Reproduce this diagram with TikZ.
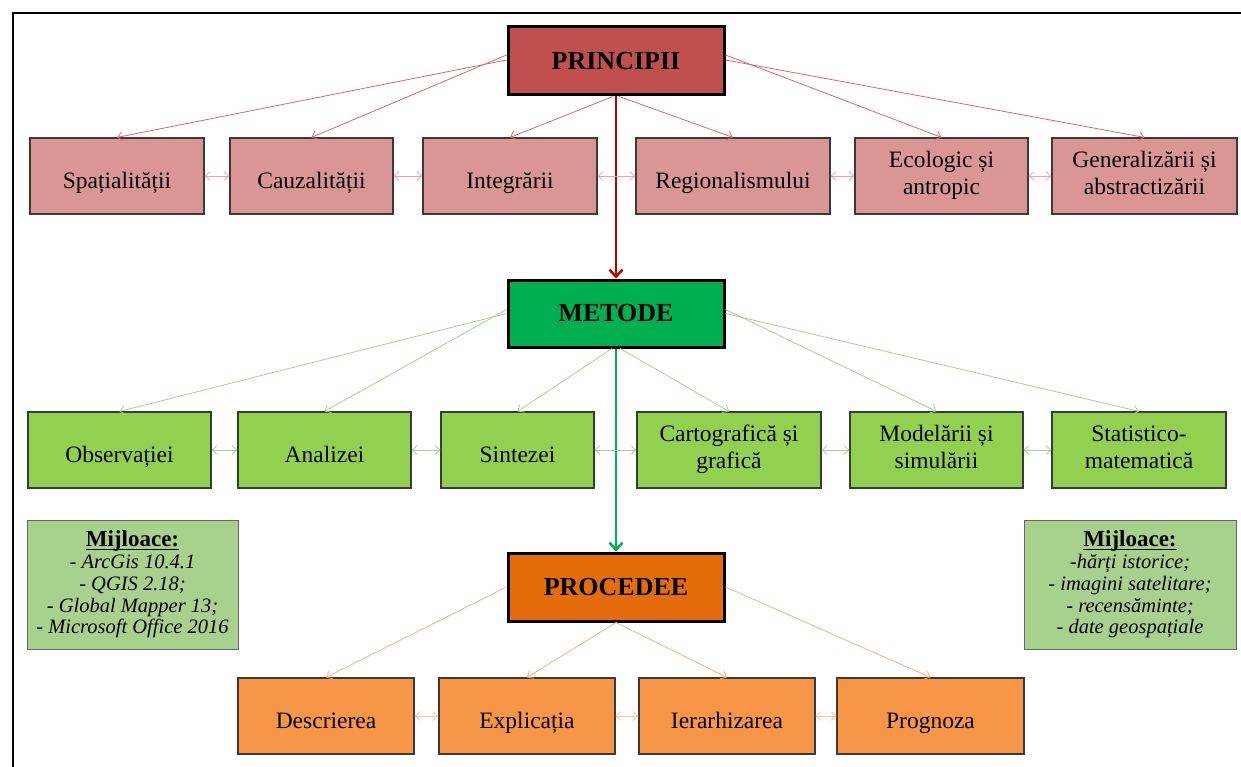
\documentclass[tikz,border=0pt]{standalone}
\usepackage{fontspec}
\setmainfont{Liberation Serif}
\usetikzlibrary{arrows.meta}
\definecolor{pfill}{HTML}{C0504D}
\definecolor{mfill}{HTML}{00B050}
\definecolor{rfill}{HTML}{E46C0A}
\definecolor{r1fill}{HTML}{D99694}
\definecolor{r2fill}{HTML}{92D050}
\definecolor{r3fill}{HTML}{F79646}
\definecolor{mijfill}{HTML}{A9D18E}
\definecolor{redline}{HTML}{E06666}
\definecolor{redlight}{HTML}{EFA3A3}
\definecolor{greenline}{HTML}{A9D18E}
\definecolor{orangeline}{HTML}{F4B183}
\definecolor{orangelight}{HTML}{F8C5A0}
\definecolor{mainred}{HTML}{C00000}
\definecolor{maingreen}{HTML}{00B050}
\definecolor{boxedge}{HTML}{3A3A3A}
\newcommand\myul[1]{\setbox0\hbox{#1}\rlap{\rule[-3pt]{\wd0}{1.3pt}}\box0}
\begin{document}
\begin{tikzpicture}[x=1pt,y=-1pt,
  headbox/.style={draw=black, line width=3pt, inner sep=0pt, minimum width=216pt,
     font=\fontsize{26}{30}\selectfont\bfseries},
  rowbox/.style={draw=boxedge, line width=1.2pt, inner sep=0pt, minimum height=76pt,
     align=center, font=\fontsize{23.5}{27}\selectfont,
     execute at begin node={\rule{0pt}{31pt}},
     execute at end node={\rule[-6pt]{0pt}{6pt}}},
  mijbox/.style={draw=gray!80!black, line width=1pt, fill=mijfill, inner sep=0pt,
     minimum height=129pt, align=center, font=\fontsize{20.5}{21.75}\selectfont\itshape},
  thin/.style={line width=0.8pt, -{Straight Barb[length=5pt,width=9pt]}},
  dbl/.style={line width=0.8pt, {Straight Barb[length=5pt,width=9pt]}-{Straight Barb[length=5pt,width=9pt]}},
  mainarrow/.style={line width=2.5pt, -{Straight Barb[length=7pt,width=13pt]}}
]
\useasboundingbox (0,0) rectangle (1241,767);
\fill[white] (0,0) rectangle (1241,767);
\draw[line width=2pt] (13,767) -- (13,13) -- (1241,13);

% heads
\node[headbox, fill=pfill, minimum height=68pt] (P) at (616,61) {PRINCIPII};
\node[headbox, fill=mfill, minimum height=67pt] (M) at (616,313.5) {METODE};
\node[headbox, fill=rfill, minimum height=68pt] (R) at (616,587) {PROCEDEE};

% row 1
\node[rowbox, fill=r1fill, minimum width=174pt] (s1) at (117,176) {Spațialității};
\node[rowbox, fill=r1fill, minimum width=163pt] (s2) at (311.5,176) {Cauzalității};
\node[rowbox, fill=r1fill, minimum width=174pt] (s3) at (510,176) {Integrării};
\node[rowbox, fill=r1fill, minimum width=194pt] (s4) at (733,176) {Regionalismului};
\node[rowbox, fill=r1fill, minimum width=173pt] (s5) at (941.5,176) {Ecologic și\\antropic};
\node[rowbox, fill=r1fill, minimum width=185pt] (s6) at (1144.5,176) {Generalizării și\\abstractizării};

% row 2
\node[rowbox, fill=r2fill, minimum width=183pt] (m1) at (119.5,450) {Observației};
\node[rowbox, fill=r2fill, minimum width=173pt] (m2) at (324.5,450) {Analizei};
\node[rowbox, fill=r2fill, minimum width=153pt] (m3) at (517.5,450) {Sintezei};
\node[rowbox, fill=r2fill, minimum width=184pt] (m4) at (729,450) {Cartografică și\\grafică};
\node[rowbox, fill=r2fill, minimum width=173pt] (m5) at (936.5,450) {Modelării și\\simulării};
\node[rowbox, fill=r2fill, minimum width=174pt] (m6) at (1139,450) {Statistico-\\matematică};

% row 3
\node[rowbox, fill=r3fill, minimum width=176pt] (d1) at (326,716) {Descrierea};
\node[rowbox, fill=r3fill, minimum width=176pt] (d2) at (527,716) {Explicația};
\node[rowbox, fill=r3fill, minimum width=176pt] (d3) at (727,716) {Ierarhizarea};
\node[rowbox, fill=r3fill, minimum width=187pt] (d4) at (930.5,716) {Prognoza};

% mijloace
\node[mijbox, minimum width=211pt] (ml) at (132.5,584.5)
  {{\upshape\bfseries\fontsize{23}{24}\selectfont\myul{Mijloace:}}\\- ArcGis 10.4.1\\- QGIS 2.18;\\- Global Mapper 13;\\- Microsoft Office 2016};
\node[mijbox, minimum width=212pt] (mr) at (1130,584.5)
  {{\upshape\bfseries\fontsize{23}{24}\selectfont\myul{Mijloace:}}\\-hărți istorice;\\- imagini satelitare;\\- recensăminte;\\- date geospațiale};

% thin connectors
\draw[thin, redline] ([yshift=1pt]P.west) -- (s1.north);
\draw[thin, redline] ([yshift=6pt]P.west) -- (s2.north);
\draw[thin, redline] ([xshift=-3pt]P.south) -- (s3.north);
\draw[thin, redline] ([xshift=3pt]P.south) -- (s4.north);
\draw[thin, redline] ([yshift=6pt]P.east) -- (s5.north);
\draw[thin, redline] ([yshift=1pt]P.east) -- (s6.north);

\draw[thin, greenline] (M.west) -- (m1.north);
\draw[thin, greenline] ([yshift=4pt]M.west) -- (m2.north);
\draw[thin, greenline] ([xshift=-4pt]M.south) -- (m3.north);
\draw[thin, greenline] ([xshift=4pt]M.south) -- (m4.north);
\draw[thin, greenline] ([yshift=4pt]M.east) -- (m5.north);
\draw[thin, greenline] (M.east) -- (m6.north);

\draw[thin, orangeline] (R.west) -- (d1.north);
\draw[thin, orangeline] (R.south) -- (d2.north);
\draw[thin, orangeline] (R.south) -- (d3.north);
\draw[thin, orangeline] (R.east) -- (d4.north);

% main arrows
\draw[mainarrow, mainred] (P.south) -- (M.north);
\draw[mainarrow, maingreen] (M.south) -- (R.north);

% double arrows
\draw[dbl, redlight] (s1.east) -- (s2.west);
\draw[dbl, redlight] (s2.east) -- (s3.west);
\draw[dbl, redlight] (s3.east) -- (s4.west);
\draw[dbl, redlight] (s4.east) -- (s5.west);
\draw[dbl, redlight] (s5.east) -- (s6.west);

\draw[dbl, greenline] (m1.east) -- (m2.west);
\draw[dbl, greenline] (m2.east) -- (m3.west);
\draw[dbl, greenline] (m3.east) -- (m4.west);
\draw[dbl, greenline] (m4.east) -- (m5.west);
\draw[dbl, greenline] (m5.east) -- (m6.west);

\draw[dbl, orangelight] (d1.east) -- (d2.west);
\draw[dbl, orangelight] (d2.east) -- (d3.west);
\draw[dbl, orangelight] (d3.east) -- (d4.west);
\end{tikzpicture}
\end{document}
